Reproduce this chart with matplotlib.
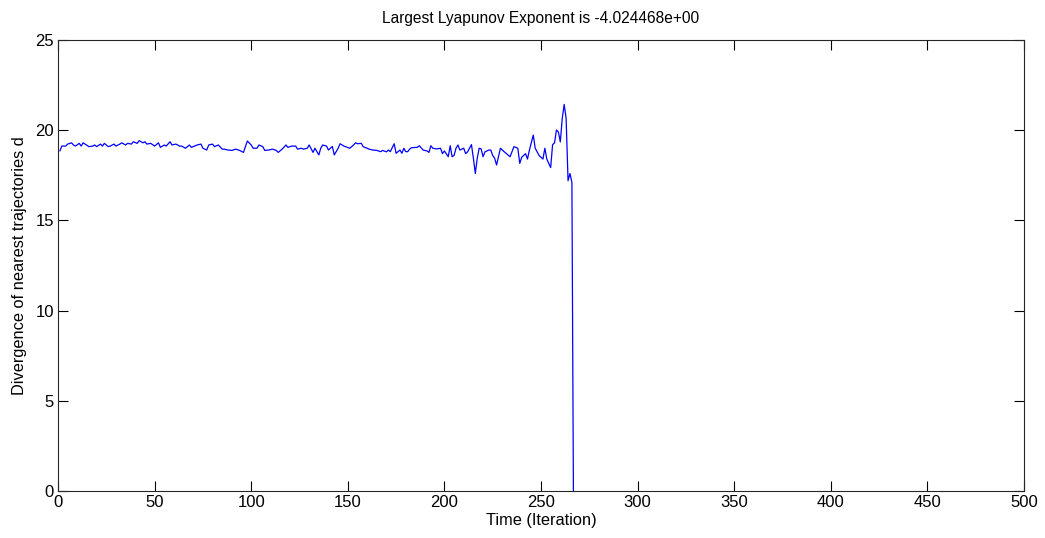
import matplotlib
matplotlib.use("Agg")
import matplotlib.pyplot as plt

plt.rcParams['font.family'] = ['Liberation Sans', 'DejaVu Sans']

iteration = [
    1, 2, 4, 5, 7, 8, 9, 11, 12, 13, 14, 16, 18, 19, 20, 22, 23, 24, 26, 27,
    29, 30, 32, 33, 35, 36, 38, 39, 41, 42, 44, 45, 46, 48, 50, 52, 53, 55, 56, 58,
    59, 61, 63, 64, 66, 68, 69, 70, 72, 74, 75, 77, 78, 80, 81, 83, 85, 86, 88, 90,
    92, 94, 96, 97, 98, 100, 101, 103, 104, 106, 107, 109, 111, 113, 114, 116, 118, 119, 121, 123,
    124, 126, 127, 129, 130, 132, 133, 135, 136, 137, 139, 140, 142, 143, 145, 146, 148, 149, 151, 153,
    154, 155, 157, 158, 160, 161, 163, 165, 167, 168, 170, 171, 172, 174, 175, 177, 178, 179, 180, 181,
    182, 183, 186, 187, 189, 191, 192, 193, 194, 196, 198, 199, 200, 202, 203, 204, 205, 206, 207, 208,
    210, 211, 212, 214, 215, 216, 217, 218, 219, 220, 221, 223, 224, 225, 226, 227, 229, 231, 234, 236,
    238, 239, 240, 242, 243, 244, 246, 247, 249, 251, 252, 253, 255, 256, 257, 258, 259, 260, 261, 262,
    263, 264, 265, 266, 267,
]
divergence = [
    18.86, 19.12, 19.12, 19.23, 19.30, 19.18, 19.12, 19.27, 19.12, 19.30, 19.23, 19.09, 19.12, 19.18, 19.09, 19.23, 19.12, 19.27, 19.09, 19.12,
    19.23, 19.12, 19.23, 19.30, 19.18, 19.27, 19.23, 19.36, 19.27, 19.42, 19.30, 19.36, 19.23, 19.27, 19.12, 19.30, 19.05, 19.18, 19.12, 19.36,
    19.18, 19.23, 19.12, 19.12, 19.00, 19.18, 19.05, 19.09, 19.18, 19.23, 19.00, 18.90, 19.18, 19.23, 19.09, 19.18, 18.95, 18.95, 18.90, 18.88,
    18.95, 18.88, 18.77, 19.09, 19.40, 19.18, 19.00, 19.00, 19.18, 19.09, 18.88, 18.90, 18.95, 18.88, 18.77, 18.95, 19.18, 19.05, 19.12, 19.12,
    18.95, 19.00, 18.95, 19.00, 19.18, 18.77, 19.00, 18.63, 19.00, 19.18, 19.12, 18.90, 19.10, 18.63, 19.00, 19.25, 19.12, 19.08, 19.00, 19.18,
    19.30, 19.25, 19.27, 19.08, 19.00, 18.95, 18.90, 18.88, 18.81, 18.88, 18.80, 18.90, 18.81, 19.25, 18.72, 18.90, 18.72, 19.00, 18.81, 18.81,
    18.95, 19.03, 19.05, 19.14, 18.90, 18.85, 18.77, 19.14, 19.00, 18.96, 19.00, 18.70, 18.85, 18.53, 19.14, 18.53, 18.60, 19.00, 19.18, 18.90,
    19.00, 18.70, 18.80, 19.20, 18.45, 17.60, 18.45, 19.00, 18.97, 18.53, 18.80, 18.90, 18.90, 18.60, 18.45, 18.07, 19.00, 18.80, 18.53, 19.09,
    19.00, 18.16, 18.50, 18.70, 18.40, 18.90, 19.73, 19.00, 18.60, 18.40, 19.00, 18.40, 17.93, 19.20, 19.30, 20.01, 19.90, 19.35, 20.66, 21.43,
    20.66, 17.20, 17.60, 17.10, -5.00,
]

title_text = "Largest Lyapunov Exponent is -4.024468e+00"
x_label = "Time (Iteration)"
y_label = "Divergence of nearest trajectories d"
x_ticks = [0, 50, 100, 150, 200, 250, 300, 350, 400, 450, 500]
y_ticks = [0, 5, 10, 15, 20, 25]

fig = plt.figure(figsize=(10.45, 5.38), dpi=100)
ax = fig.add_axes([58 / 1045, 47 / 538, 966 / 1045, 451 / 538])
ax.plot(iteration, divergence, color=(0, 0, 1), lw=0.9)
ax.set_xlim(0, 500)
ax.set_ylim(0, 25)
ax.set_xticks(x_ticks)
ax.set_yticks(y_ticks)
ax.tick_params(direction='in', top=True, right=True, length=7, width=0.8,
               labelsize=12, pad=3, colors='black')
for s in ax.spines.values():
    s.set_linewidth(0.8)
    s.set_color('#262626')
ax.set_title(title_text, fontsize=11.2, pad=12)
ax.set_xlabel(x_label, fontsize=11.8, labelpad=2)
ax.set_ylabel(y_label, fontsize=11.8, labelpad=6)
fig.savefig("out.png", dpi=100)
